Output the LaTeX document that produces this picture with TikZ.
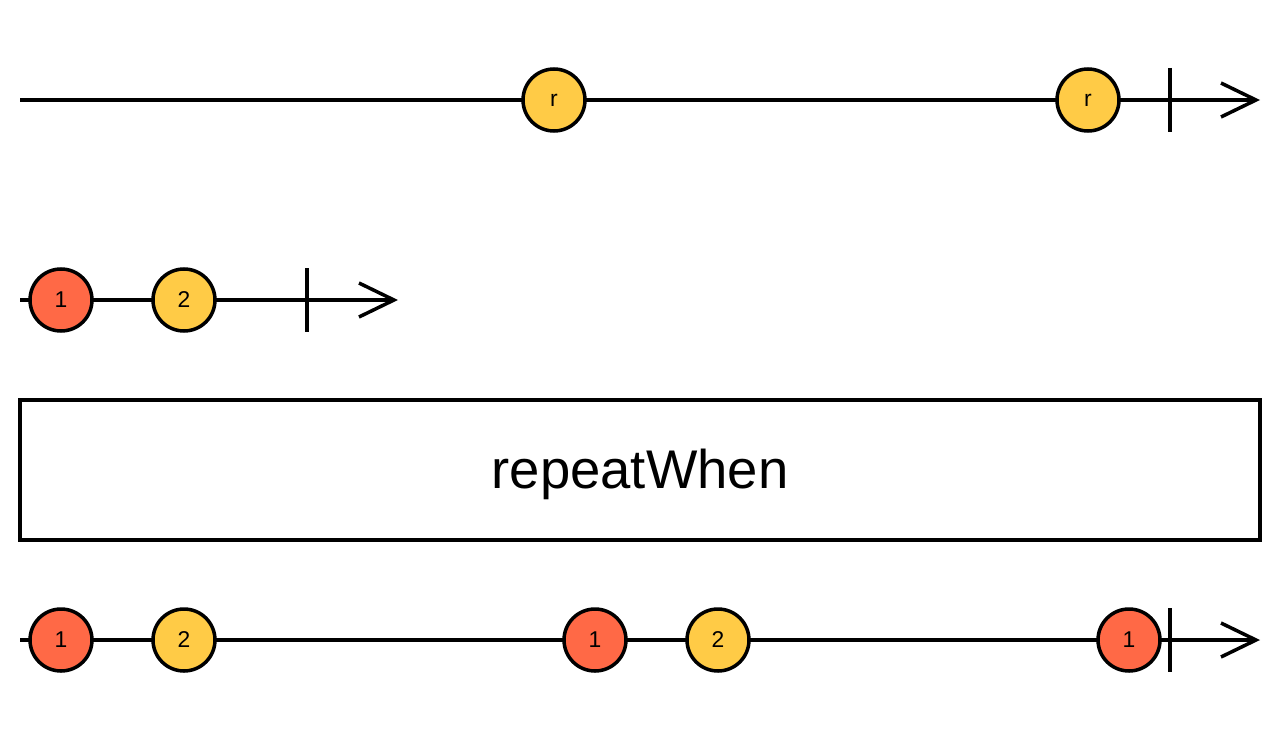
\documentclass[tikz,border=0pt]{standalone}
\usepackage{fontspec}
\setmainfont{Liberation Sans}
\usetikzlibrary{positioning, arrows.meta}

\definecolor{marbleyellow}{HTML}{FFCB46}
\definecolor{marblered}{HTML}{FF6946}

\begin{document}
\begin{tikzpicture}[
    x=0.02cm, y=-0.02cm,
    line width=2pt,
    marble/.style={
        draw,
        circle,
        minimum size=1.24cm,
        inner sep=0pt,
        font=\fontsize{13}{13}\selectfont
    },
    yel/.style={marble, fill=marbleyellow},
    red/.style={marble, fill=marblered},
    timeline/.style={-{Straight Barb[length=0.7cm, width=0.68cm, line width=2pt]}}
]

    \useasboundingbox (0,0) rectangle (1280,740);

    % source
    \coordinate (s0) at (20,100);
    \coordinate (s1) at (1260,100);
    \draw[timeline] (s0) -- (s1);
    \node[yel] (r1) at (554,100) {r};
    \node[yel] (r2) at (1088,100) {r};
    \draw (1170,68) coordinate (st) -- (1170,132) coordinate (sb);

    % notifier
    \coordinate (n0) at (20,300);
    \coordinate (n1) at (398,300);
    \draw[timeline] (n0) -- (n1);
    \node[red] (na) at (61,300) {1};
    \node[yel] (nb) at (184,300) {2};
    \draw (307,268) coordinate (nt) -- (307,332) coordinate (nb2);

    % operator
    \node[draw, minimum width=24.8cm, minimum height=2.8cm, inner sep=0pt] (op) at (640,470) {};
    \node[anchor=base, inner sep=0pt, font=\fontsize{31}{32}\selectfont] (opname) at (640,488) {repeatWhen};

    % result
    \coordinate (o0) at (20,640);
    \coordinate (o1) at (1260,640);
    \draw[timeline] (o0) -- (o1);
    \node[red] (oa) at (61,640) {1};
    \node[yel] (ob) at (184,640) {2};
    \node[red] (oc) at (595,640) {1};
    \node[yel] (od) at (718,640) {2};
    \node[red] (oe) at (1129,640) {1};
    \draw (1170,608) coordinate (ot) -- (1170,672) coordinate (ob2);

\end{tikzpicture}
\end{document}
